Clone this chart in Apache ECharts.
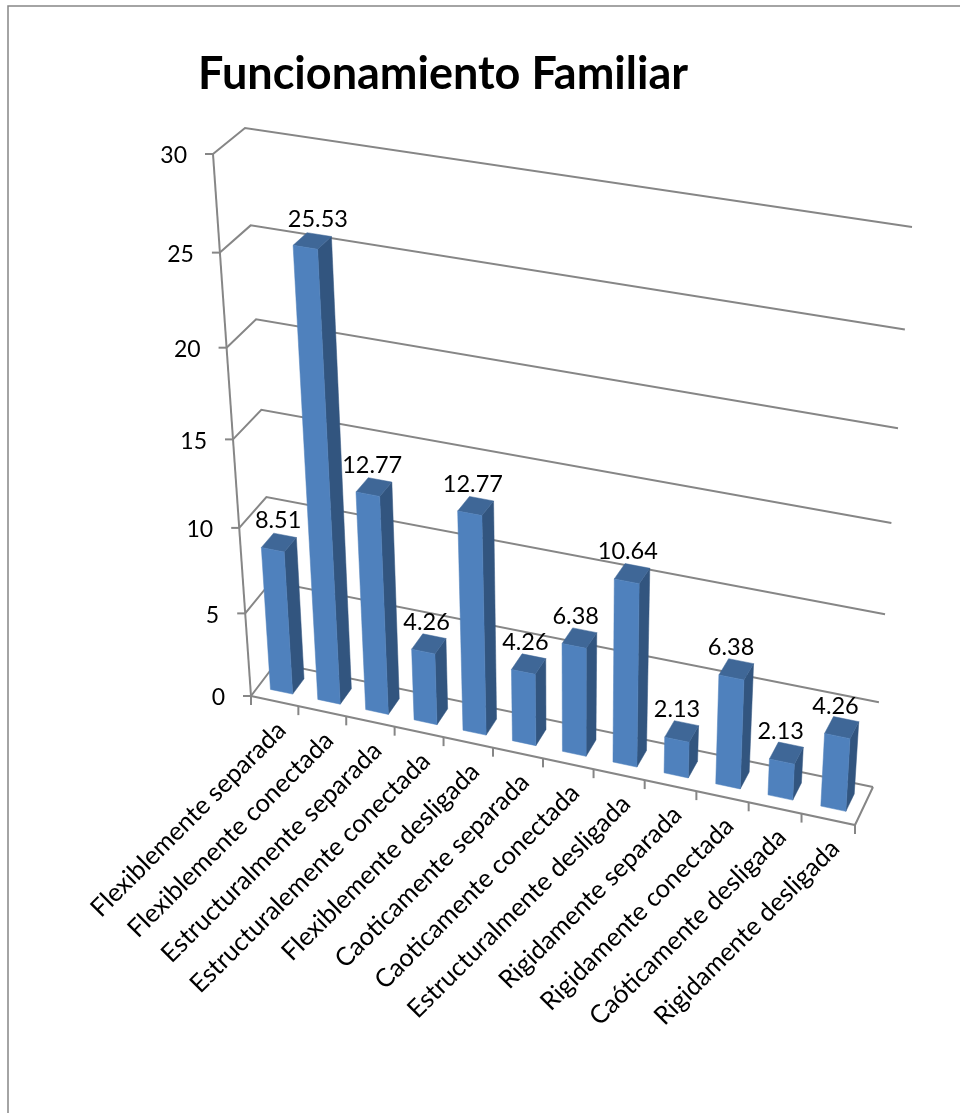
<!DOCTYPE html>
<html><head><meta charset="utf-8">
<style>html,body{margin:0;padding:0;background:#fff}#c{width:960px;height:1113px}</style>
<script src="https://cdn.jsdelivr.net/npm/echarts@6/dist/echarts.min.js"></script></head>
<body><div id="c"></div>
<script>
const categories=["Flexiblemente separada","Flexiblemente conectada","Estructuralmente separada","Estructuralemente conectada","Flexiblemente desligada","Caoticamente separada","Caoticamente conectada","Estructuralmente desligada","Rigidamente separada","Rigidamente conectada","Caóticamente desligada","Rigidamente desligada"];
const values=[8.51,25.53,12.77,4.26,12.77,4.26,6.38,10.64,2.13,6.38,2.13,4.26];
const yTicks=[0,5,10,15,20,25,30];

// Perspective frame of the 3D box: corners (u=0/1, w=0/1) of the near and far planes
const NEAR=[[251,696],[855,825],[887,257],[213,154]];
const FAR=[[276,663],[873,787],[912,227],[245,128]];
const GRID={left:100,top:100,width:600,height:600};
function homography(q){
  const [x0,y0]=q[0],[x1,y1]=q[1],[x2,y2]=q[2],[x3,y3]=q[3];
  const dx1=x1-x2,dx2=x3-x2,sx=x0-x1+x2-x3,dy1=y1-y2,dy2=y3-y2,sy=y0-y1+y2-y3;
  const den=dx1*dy2-dx2*dy1,g=(sx*dy2-dx2*sy)/den,h=(dx1*sy-sx*dy1)/den;
  const a=x1-x0+g*x1,b=x3-x0+h*x3,d=y1-y0+g*y1,e=y3-y0+h*y3;
  return (u,v)=>{const k=g*u+h*v+1;return [(a*u+b*v+x0)/k,(d*u+e*v+y0)/k];};
}
const hN=homography(NEAR),hF=homography(FAR);
// grid pixel (px,py) plus depth -> screen point
function proj(px,py,depth){
  const u=(px-GRID.left)/GRID.width,w=(GRID.top+GRID.height-py)/GRID.height;
  const n=hN(u,w),f=hF(u,w);
  return [n[0]+(f[0]-n[0])*depth,n[1]+(f[1]-n[1])*depth];
}
const FONT='Lato, "Open Sans", sans-serif';
const GRAY='#868686',FRONT='#4f81bd',TOP='#3f6797',SIDE='#32557f';
const line=(pts,w)=>({type:'polyline',shape:{points:pts},style:{fill:'none',stroke:GRAY,lineWidth:w||2}});
const poly=(pts,c)=>({type:'polygon',shape:{points:pts},style:{fill:c,stroke:c,lineWidth:.5}});
const txt=(t,x,y,align,size,rot)=>({type:'text',x,y,rotation:rot||0,style:{text:t,fill:'#000',font:size+'px '+FONT,textAlign:align,textVerticalAlign:'middle'}});

function wall(p,api){
  const v=api.value(0),y=api.coord([0,v])[1],L=GRID.left,R=L+GRID.width;
  const a=proj(L,y,0),b=proj(L,y,1),c=proj(R,y,1);
  const ch=[line([a,b,c]),line([[a[0]-8,a[1]],a]),txt(String(v),a[0]-26,a[1]+2,'right',23)];
  if(v===0){ch.push(line([c,proj(R,y,0),a]));
    ch.push(line([a,proj(L,GRID.top,0)]));}
  return {type:'group',children:ch};
}
function xAxisItem(p,api){
  const i=api.value(0),bw=api.size([1,0])[0],yb=GRID.top+GRID.height;
  const xr=api.coord([i,0])[0]+bw/2,xc=xr-bw/2;
  const t=proj(xr,yb,0),m=proj(xc,yb,0),ch=[];
  ch.push(line([t,[t[0],t[1]+9]]));
  if(i===0){const t0=proj(GRID.left,yb,0);ch.push(line([t0,[t0[0],t0[1]+9]]));}
  ch.push(txt(categories[i],m[0]+7,m[1]+25,'right',25.5,Math.PI/4));
  return {type:'group',children:ch};
}
function bar(p,api){
  const i=api.value(0),v=api.value(1),bw=api.size([1,0])[0];
  const cx=api.coord([i,0])[0],y0=api.coord([i,0])[1],y1=api.coord([i,v])[1];
  const l=cx-bw*.235,r=cx+bw*.235,d0=.28,d1=.74;
  const P=(x,y,d)=>proj(x,y,d);
  return {type:'group',children:[
    poly([P(r,y0,d0),P(r,y0,d1),P(r,y1,d1),P(r,y1,d0)],SIDE),
    poly([P(l,y1,d0),P(r,y1,d0),P(r,y1,d1),P(l,y1,d1)],TOP),
    poly([P(l,y0,d0),P(r,y0,d0),P(r,y1,d0),P(l,y1,d0)],FRONT)
  ]};
}
function dataLabel(p,api){
  const i=api.value(0),v=api.value(1),c=api.coord([i,v]);
  const q=proj(c[0],c[1],.5);
  const lean=-0.5-0.5*i+Math.max(0,v-13)*0.55;
  return txt(v.toFixed(2),q[0]+lean,q[1]-22,'center',23.5);
}
const chart=echarts.init(document.getElementById('c'),null,{renderer:'canvas'});
chart.setOption({
  animation:false,backgroundColor:'#fff',
  title:{text:'Funcionamiento Familiar',left:193,top:47,textStyle:{fontFamily:FONT,fontWeight:'bold',fontSize:45,color:'#000'}},
  graphic:[{type:'rect',shape:{x:8,y:6,width:1100,height:1300},style:{fill:'none',stroke:GRAY,lineWidth:1.5},silent:true}],
  grid:Object.assign({},GRID),
  xAxis:{type:'category',data:categories,show:false},
  yAxis:{type:'value',min:0,max:30,interval:5,show:false},
  series:[
    {type:'custom',renderItem:wall,silent:true,data:yTicks.map(v=>[v]),encode:{x:-1,y:0},z:1},
    {type:'custom',renderItem:xAxisItem,silent:true,data:categories.map((c,i)=>[i]),encode:{x:0,y:-1},z:1},
    {type:'custom',renderItem:bar,silent:true,data:values.map((v,i)=>[i,v]),encode:{x:0,y:1},z:2},
    {type:'custom',renderItem:dataLabel,silent:true,data:values.map((v,i)=>[i,v]),encode:{x:0,y:1},z:3}
  ]
});
</script></body></html>
